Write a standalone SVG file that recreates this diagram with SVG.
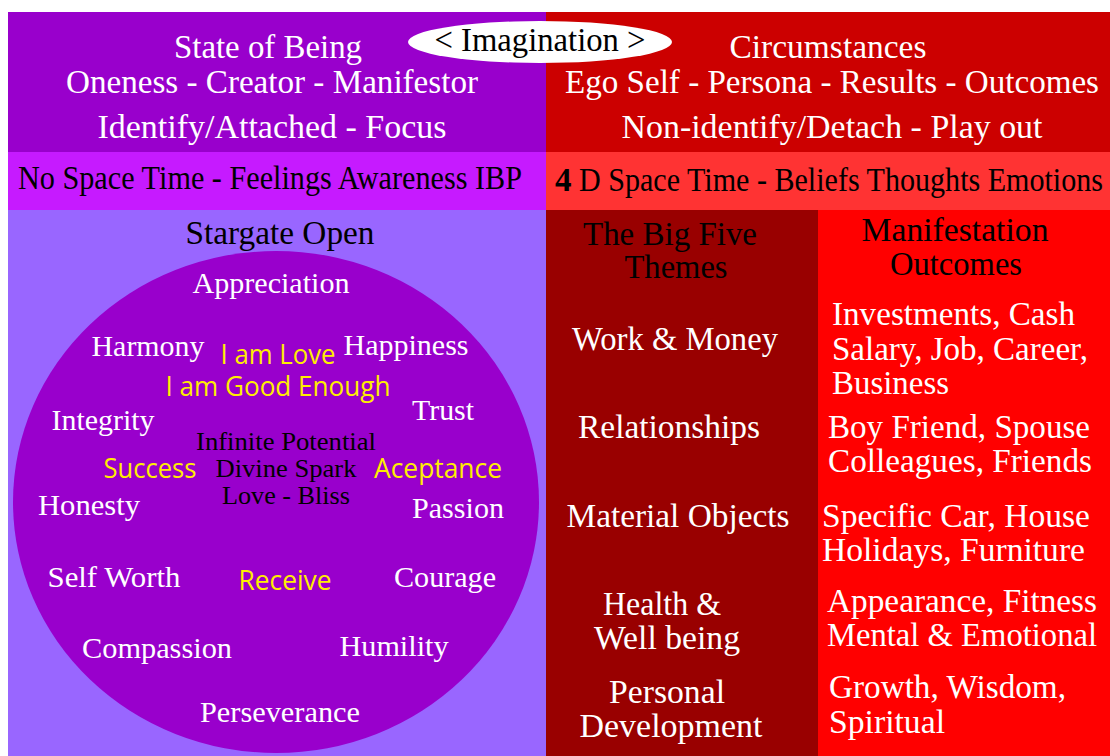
<svg xmlns="http://www.w3.org/2000/svg" width="1110" height="756" viewBox="0 0 1110 756">
<style>
.t{font-family:"Liberation Serif","Times New Roman",serif;font-size:33px;fill:#fff;text-anchor:middle}
.c{font-size:30px}
.s{font-size:26px}
.b{fill:#000}
.y{font-family:"Open Sans","Liberation Sans",sans-serif;font-size:27px;fill:#FFEE00;text-anchor:middle}
.l{text-anchor:start}
</style>
<rect width="1110" height="756" fill="#fff"/>
<g id="left-top"><rect x="8" y="12" width="538" height="140" fill="#9900CC"/>
<text class="t" x="268" y="58" textLength="188" lengthAdjust="spacingAndGlyphs">State of Being</text>
<text class="t" x="272" y="93" textLength="412" lengthAdjust="spacingAndGlyphs">Oneness - Creator - Manifestor</text>
<text class="t" x="272" y="138" textLength="349" lengthAdjust="spacingAndGlyphs">Identify/Attached - Focus</text></g>
<g id="right-top"><rect x="546" y="12" width="564" height="140" fill="#CC0000"/>
<text class="t" x="828" y="58" textLength="197" lengthAdjust="spacingAndGlyphs">Circumstances</text>
<text class="t" x="832" y="93" textLength="534" lengthAdjust="spacingAndGlyphs">Ego Self - Persona - Results - Outcomes</text>
<text class="t" x="832" y="138" textLength="421" lengthAdjust="spacingAndGlyphs">Non-identify/Detach - Play out</text></g>
<g id="imagination"><ellipse cx="540" cy="42" rx="132" ry="21" fill="#fff"/>
<text class="t b" x="540" y="51" font-size="30" textLength="211" lengthAdjust="spacingAndGlyphs">&lt; Imagination &gt;</text></g>
<g id="left-band"><rect x="8" y="152" width="538" height="58" fill="#C61AFF"/>
<text class="t b" x="270" y="189" font-size="27" textLength="504" lengthAdjust="spacingAndGlyphs">No Space Time - Feelings Awareness IBP</text></g>
<g id="right-band"><rect x="546" y="152" width="564" height="58" fill="#FF3333"/>
<text class="t b l" x="555" y="191" font-size="26" font-weight="bold">4</text>
<text class="t b l" x="579" y="191" font-size="27" textLength="524" lengthAdjust="spacingAndGlyphs">D Space Time - Beliefs Thoughts Emotions</text></g>
<g id="stargate"><rect x="8" y="210" width="538" height="546" fill="#9966FF"/>
<text class="t b" x="280" y="244" font-size="31" textLength="189" lengthAdjust="spacingAndGlyphs">Stargate Open</text>
<ellipse cx="276" cy="502" rx="263" ry="251" fill="#9900CC"/>
<text class="t c" x="271" y="293" textLength="157" lengthAdjust="spacingAndGlyphs">Appreciation</text>
<text class="t c" x="148" y="356" textLength="113" lengthAdjust="spacingAndGlyphs">Harmony</text>
<text class="y" x="278" y="364" textLength="115" lengthAdjust="spacingAndGlyphs">I am Love</text>
<text class="t c" x="406" y="355" textLength="125" lengthAdjust="spacingAndGlyphs">Happiness</text>
<text class="y" x="278" y="396" textLength="225" lengthAdjust="spacingAndGlyphs">I am Good Enough</text>
<text class="t c" x="443" y="420" textLength="62" lengthAdjust="spacingAndGlyphs">Trust</text>
<text class="t c" x="103" y="430" textLength="103" lengthAdjust="spacingAndGlyphs">Integrity</text>
<text class="t b s" x="286" y="450" textLength="180" lengthAdjust="spacingAndGlyphs">Infinite Potential</text>
<text class="y" x="150" y="478" textLength="93" lengthAdjust="spacingAndGlyphs">Success</text>
<text class="t b s" x="286" y="477" textLength="141" lengthAdjust="spacingAndGlyphs">Divine Spark</text>
<text class="y" x="438" y="478" textLength="128" lengthAdjust="spacingAndGlyphs">Aceptance</text>
<text class="t b s" x="286" y="504" textLength="128" lengthAdjust="spacingAndGlyphs">Love - Bliss</text>
<text class="t c" x="89" y="515" textLength="102" lengthAdjust="spacingAndGlyphs">Honesty</text>
<text class="t c" x="458" y="518" textLength="92" lengthAdjust="spacingAndGlyphs">Passion</text>
<text class="t c" x="114" y="587" textLength="133" lengthAdjust="spacingAndGlyphs">Self Worth</text>
<text class="y" x="285" y="590" textLength="93" lengthAdjust="spacingAndGlyphs">Receive</text>
<text class="t c" x="445" y="587" textLength="102" lengthAdjust="spacingAndGlyphs">Courage</text>
<text class="t c" x="157" y="658" textLength="150" lengthAdjust="spacingAndGlyphs">Compassion</text>
<text class="t c" x="394" y="656" textLength="109" lengthAdjust="spacingAndGlyphs">Humility</text>
<text class="t c" x="280" y="722" textLength="160" lengthAdjust="spacingAndGlyphs">Perseverance</text></g>
<g id="themes"><rect x="546" y="210" width="272" height="546" fill="#990000"/>
<text class="t b" x="670" y="245" textLength="174" lengthAdjust="spacingAndGlyphs">The Big Five</text>
<text class="t b" x="676" y="278" textLength="103" lengthAdjust="spacingAndGlyphs">Themes</text>
<text class="t" x="675" y="350" textLength="206" lengthAdjust="spacingAndGlyphs">Work &amp; Money</text>
<text class="t" x="669" y="438" textLength="182" lengthAdjust="spacingAndGlyphs">Relationships</text>
<text class="t" x="678" y="527" textLength="223" lengthAdjust="spacingAndGlyphs">Material Objects</text>
<text class="t" x="662" y="615" textLength="118" lengthAdjust="spacingAndGlyphs">Health &amp;</text>
<text class="t" x="667" y="649" textLength="146" lengthAdjust="spacingAndGlyphs">Well being</text>
<text class="t" x="667" y="703" textLength="116" lengthAdjust="spacingAndGlyphs">Personal</text>
<text class="t" x="671" y="737" textLength="183" lengthAdjust="spacingAndGlyphs">Development</text></g>
<g id="outcomes"><rect x="818" y="210" width="292" height="546" fill="#FF0000"/>
<text class="t b" x="955" y="241" textLength="187" lengthAdjust="spacingAndGlyphs">Manifestation</text>
<text class="t b" x="956" y="275" textLength="132" lengthAdjust="spacingAndGlyphs">Outcomes</text>
<text class="t l" x="832" y="325" textLength="243" lengthAdjust="spacingAndGlyphs">Investments, Cash</text>
<text class="t l" x="832" y="360" textLength="256" lengthAdjust="spacingAndGlyphs">Salary, Job, Career,</text>
<text class="t l" x="832" y="394" textLength="117" lengthAdjust="spacingAndGlyphs">Business</text>
<text class="t l" x="828" y="438" textLength="262" lengthAdjust="spacingAndGlyphs">Boy Friend, Spouse</text>
<text class="t l" x="828" y="472" textLength="264" lengthAdjust="spacingAndGlyphs">Colleagues, Friends</text>
<text class="t l" x="822" y="527" textLength="268" lengthAdjust="spacingAndGlyphs">Specific Car, House</text>
<text class="t l" x="822" y="561" textLength="263" lengthAdjust="spacingAndGlyphs">Holidays, Furniture</text>
<text class="t l" x="827" y="612" textLength="270" lengthAdjust="spacingAndGlyphs">Appearance, Fitness</text>
<text class="t l" x="827" y="646" textLength="270" lengthAdjust="spacingAndGlyphs">Mental &amp; Emotional</text>
<text class="t l" x="829" y="698" textLength="237" lengthAdjust="spacingAndGlyphs">Growth, Wisdom,</text>
<text class="t l" x="829" y="733" textLength="116" lengthAdjust="spacingAndGlyphs">Spiritual</text></g>
<g id="connectors"/>
</svg>
